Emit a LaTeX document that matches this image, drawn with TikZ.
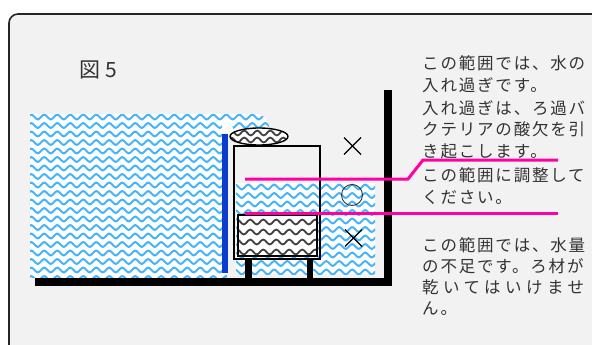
\documentclass[tikz,border=0pt]{standalone}
\usepackage{fontspec}
\newfontfamily\jp[LetterSpace=11]{Noto Sans CJK JP}
\newfontfamily\jpplain{Noto Sans CJK JP}
\definecolor{panel}{RGB}{242,242,242}
\definecolor{waterblue}{RGB}{70,180,250}
\definecolor{barblue}{RGB}{10,60,205}
\definecolor{levelpink}{RGB}{255,0,165}

% Wavy hatching inside a region:
% #1 line style, #2 region path, #3 x start, #4 first row, #5 second row, #6 last row, #7 periods
\newcommand\wavefield[7]{%
  \begin{scope}
    \fill[white] #2;
    \clip #2;
    \foreach \yy in {#4,#5,...,#6}{
      \draw[#1] (#3,\yy) \foreach \k in {1,...,#7}{
        sin ++(3.25,-2.4) cos ++(3.25,2.4) sin ++(3.25,2.4) cos ++(3.25,-2.4)};
    }
  \end{scope}}

\begin{document}
\begin{tikzpicture}[x=1pt,y=-1pt,
  bluewave/.style={draw=waterblue, line width=2pt},
  darkwave/.style={draw=black!75, line width=1.8pt},
  levelline/.style={draw=levelpink, line width=3pt},
  note/.style={font=\jp\fontsize{16.5pt}{20pt}\selectfont, text=black!80,
    inner sep=0pt, anchor=base west},
  signmark/.style={draw=black, line width=1.3pt},
]
\useasboundingbox (0,0) rectangle (592,345);
\fill[white] (0,0) rectangle (592,345);
\clip (0,0) rectangle (592,345);

% panel
\draw[fill=panel, draw=black!85, line width=1.6pt, rounded corners=9pt]
  (9,14) rectangle (640,400);

% outer water with the overflow over the tank
\wavefield{bluewave}{(30,114) -- (256,114) .. controls (265,114) and (269,122) .. (270,132)
  -- (227,132) -- (227,278) -- (30,278) -- cycle}{28}{117}{125.5}{280}{20}
% water inside and around the filter
\wavefield{bluewave}{(236,183) rectangle (375,274)}{232}{187}{195.5}{276}{12}

% light gap at the top of the bar
\fill[white] (222,134) -- (222,124) -- (226,120) -- (233,128) -- (233,134) -- cycle;
% blue bar
\fill[barblue] (222,134) rectangle (227.5,273);

% filter case
\draw[line width=1.6pt] (234,146) rectangle (320,259);

% filter media
\wavefield{darkwave}{(238,215) rectangle (317,256)}{234}{222}{232}{254}{7}
\draw[line width=1.8pt] (238,215) rectangle (317,256);

% legs
\fill (245,259) rectangle (252,279);
\fill (307,259) rectangle (313,279);

% top media ellipse
\wavefield{darkwave}{(259,136.5) ellipse [x radius=29, y radius=8.5]}{228}{133}{140}{141}{5}
\draw[line width=1.4pt] (259,136.5) ellipse [x radius=29, y radius=8.5];

% floor and wall
\fill (35,278) rectangle (392,286);
\fill (384,90) rectangle (392,286);

% level lines
\draw[levelline] (245,179) -- (408,179) -- (423,160) -- (558,160);
\draw[levelline] (245,213) -- (558,213);

% marks
\draw[signmark] (344,137.5) -- (361,154.5) (361,137.5) -- (344,154.5);
\draw[draw=black!80, line width=0.9pt] (352,195) circle [radius=10.5];
\draw[signmark] (345,229.5) -- (362,246.5) (362,229.5) -- (345,246.5);

% texts
\node[inner sep=0pt, anchor=base west, text=black!80,
  font=\jpplain\fontsize{21pt}{25pt}\selectfont] (title) at (79,77.5) {図\hspace{5pt}5};

\node[note] (t1) at (422,70) {この範囲では、水の};
\node[note] (t2) at (422,92) {入れ過ぎです。};
\node[note] (t3) at (422,114) {入れ過ぎは、ろ過バ};
\node[note] (t4) at (422,135.5) {クテリアの酸欠を引};
\node[note] (t5) at (422,157) {き起こします。};
\node[note] (t6) at (422,181) {この範囲に調整して};
\node[note] (t7) at (422,203) {ください。};
\node[note] (t8) at (422,251) {この範囲では、水量};
\node[note] (t9) at (422,272) {の不足です。ろ材が};
\node[note] (t10) at (422,293) {\addfontfeature{LetterSpace=27}乾いてはいけませ};
\node[note] (t11) at (422,314) {ん。};
\end{tikzpicture}
\end{document}
